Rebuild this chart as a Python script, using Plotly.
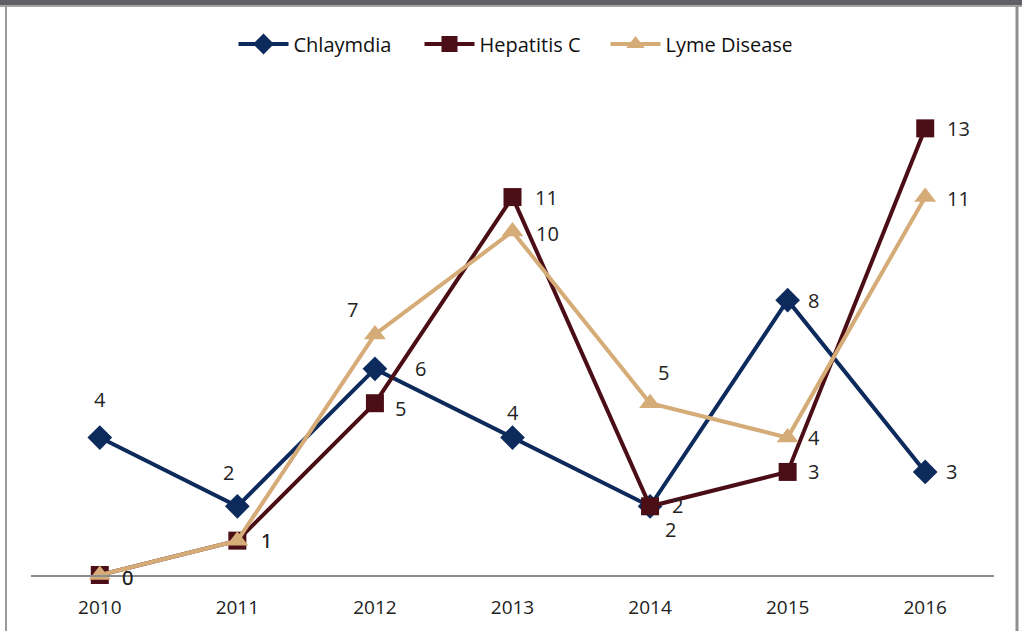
import plotly.graph_objects as go

years = [2010, 2011, 2012, 2013, 2014, 2015, 2016]
chlamydia = [4, 2, 6, 4, 2, 8, 3]
hepatitis_c = [0, 1, 5, 11, 2, 3, 13]
lyme = [0, 1, 7, 10, 5, 4, 11]

series_names = ["Chlaymdia", "Hepatitis C", "Lyme Disease"]

W, H = 1022, 631
L, R, T, B = 31, 28, 94, 56
PW, PH = W - L - R, H - T - B

def px(x):
    return (x - L) / PW

def py(y):
    return (H - B - y) / PH

NAVY = "#0c2a5c"
MAROON = "#4b0e16"
TAN = "#d5ab77"
FONT = "Open Sans"

fig = go.Figure()

# draw order: navy, maroon, tan on top
styles = [
    (chlamydia, NAVY, "diamond", 19),
    (hepatitis_c, MAROON, "square", 18),
    (lyme, TAN, "triangle-up", 19),
]
for name, (vals, col, sym, sz) in zip(series_names, styles):
    fig.add_trace(go.Scatter(
        x=years, y=vals, name=name, mode="lines+markers",
        line=dict(color=col, width=4),
        marker=dict(symbol=sym, size=sz, color=col),
        cliponaxis=False, hoverinfo="skip"
    ))

# label offsets (pixels) for each point, per series
offs = {
    0: [(0, 38), (-9, 34), (46, 0), (0, 25), (27, 1), (26, 0), (26, 0)],
    1: [(28, -2), (29, 0), (26, -5), (34, 0), (20, -23), (26, 0), (33, 0)],
    2: [(28, -2), (29, 0), (-22, 25), (35, -2), (13, 31), (26, 0), (33, -1)],
}
annotations = []
for i, vals in enumerate([chlamydia, hepatitis_c, lyme]):
    for j, (x, v) in enumerate(zip(years, vals)):
        dx, dy = offs[i][j]
        annotations.append(dict(
            x=x, y=v, text=str(v), showarrow=False,
            xshift=dx, yshift=dy, xanchor="center", yanchor="middle",
            font=dict(family=FONT, size=20, color="#222222")
        ))

shapes = [
    dict(type="rect", xref="paper", yref="paper", x0=px(-5), x1=px(W + 5), y0=py(6), y1=py(-5),
         fillcolor="#606167", line=dict(width=0), layer="above"),
    dict(type="line", xref="paper", yref="paper", x0=px(-5), x1=px(W + 5), y0=py(6), y1=py(6),
         line=dict(color="#a3a3a3", width=2)),
    dict(type="line", xref="paper", yref="paper", x0=px(6), x1=px(6), y0=py(6), y1=py(H + 5),
         line=dict(color="#9a9a9a", width=2)),
    dict(type="line", xref="paper", yref="paper", x0=px(1017), x1=px(1017), y0=py(6), y1=py(H + 5),
         line=dict(color="#8f8f8f", width=3)),
]

fig.update_layout(
    width=W, height=H,
    margin=dict(l=L, r=R, t=T, b=B, autoexpand=False),
    paper_bgcolor="white", plot_bgcolor="white",
    font=dict(family=FONT, size=18, color="#222222"),
    showlegend=True,
    legend=dict(orientation="h", x=0.5, xanchor="center", y=py(44), yanchor="middle",
                font=dict(family=FONT, size=20, color="#111111"),
                itemwidth=50, entrywidth=121, tracegroupgap=0, bgcolor="rgba(0,0,0,0)"),
    xaxis=dict(range=[2009.5, 2016.5], tickvals=years, ticktext=[str(y) for y in years],
               showgrid=False, zeroline=False, showline=True, linecolor="#8c8c8c", linewidth=1.5,
               ticks="outside", ticklen=14, tickcolor="rgba(0,0,0,0)", automargin=False,
               tickfont=dict(family=FONT, size=19, color="#222222"), fixedrange=True),
    yaxis=dict(range=[0, 14], visible=False, showgrid=False, zeroline=False, fixedrange=True),
    annotations=annotations,
    shapes=shapes,
)

# page has a default 8px body margin; remove it so the chart sits at the window corner
fig.write_html("out.html", config={"displayModeBar": False},
               post_script="document.body.style.margin='0';")
